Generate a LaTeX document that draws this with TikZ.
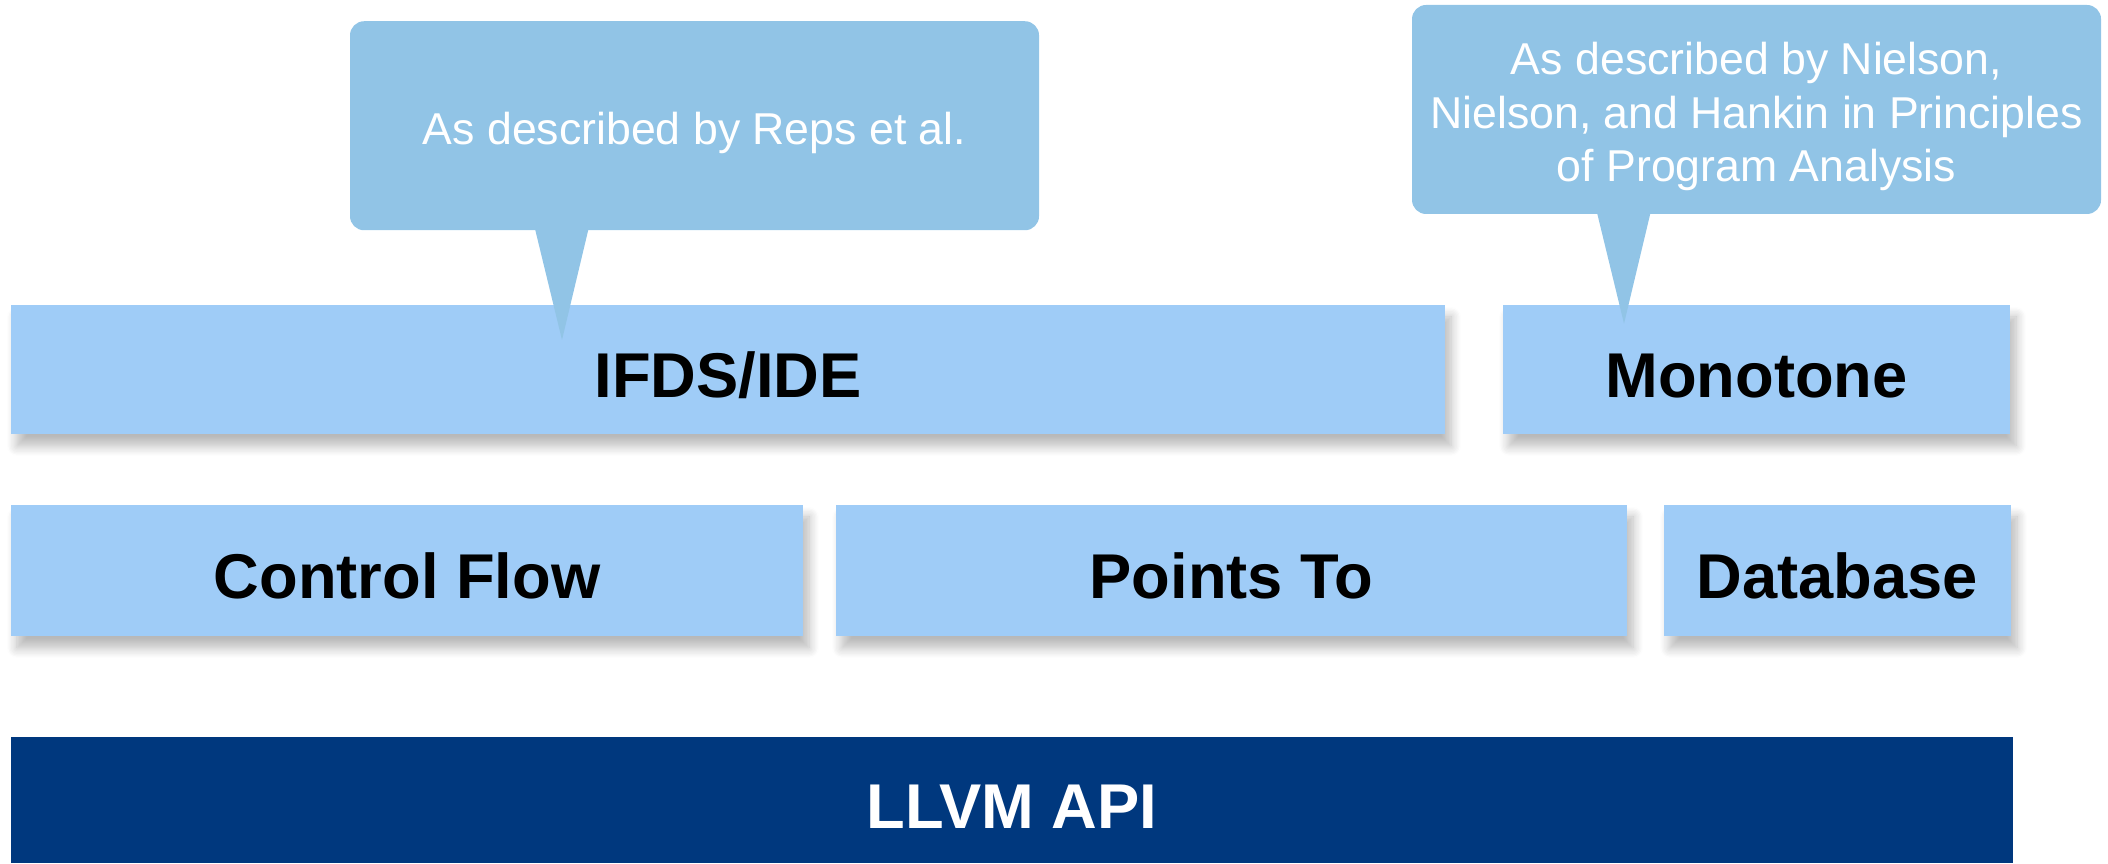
\documentclass[tikz,border=0pt]{standalone}
\usepackage{fontspec}
\setmainfont{Liberation Sans}
\usetikzlibrary{calc,shadows.blur}

\begin{document}
\begin{tikzpicture}[
  layer/.style={fill=LBlue, inner sep=0pt, minimum height=1.29cm, align=center,
    text height=0.56cm, text depth=0pt,
    font=\fontsize{18}{21}\selectfont\bfseries,
    blur shadow={shadow xshift=0.06cm, shadow yshift=-0.12cm, shadow blur steps=8,
      shadow blur radius=0.1cm, shadow opacity=28}},
  base/.style={fill=DBlue, text=white, inner sep=0pt, minimum height=1.26cm,
    text height=0.56cm, text depth=0pt,
    font=\fontsize{18}{21}\selectfont\bfseries},
  note/.style={fill=CBlue, rounded corners=4pt, inner sep=0pt,
    minimum width=6.89cm, minimum height=2.09cm},
  notetext/.style={text=white, inner sep=0pt, align=center,
    font=\fontsize{12.7}{15.3}\selectfont},
  tail/.style={fill=CBlue}
]
\definecolor{LBlue}{HTML}{9FCCF7}
\definecolor{CBlue}{HTML}{91C4E6}
\definecolor{DBlue}{HTML}{00387E}

\useasboundingbox (0,0) rectangle (21.08,8.63);

% analysis layers
\node[layer, minimum width=14.34cm] (ifds) at (7.28,4.935) {IFDS/IDE};
\node[layer, minimum width=5.07cm] (mono) at (17.565,4.935) {Monotone};

\node[layer, minimum width=7.92cm, minimum height=1.31cm] (cfg) at (4.07,2.925) {Control Flow};
\node[layer, minimum width=7.91cm, minimum height=1.31cm] (pts) at (12.315,2.925) {Points To};
\node[layer, minimum width=3.47cm, minimum height=1.31cm] (db) at (18.375,2.925) {Database};

\node[base, minimum width=20.02cm] (llvm) at (10.12,0.63) {LLVM API};

% callouts
\node[note] (reps) at (6.945,7.3725) {};
\node[note] (nnh) at (17.565,7.535) {};
\node[notetext] (repstext) at ($(reps.center)+(0,-0.07)$) {As described by Reps et al.};
\node[notetext] (nnhtext) at ($(nnh.center)+(0,-0.07)$) {As described by Nielson,\\Nielson, and Hankin in Principles\\of Program Analysis};

\coordinate (repstip) at ($(reps.south)+(-1.325,-1.09)$);
\coordinate (nnhtip) at ($(nnh.south)+(-1.325,-1.09)$);
\fill[tail] ($(reps.south)+(-1.595,0.02)$) -- (repstip) -- ($(reps.south)+(-1.06,0.02)$) -- cycle;
\fill[tail] ($(nnh.south)+(-1.595,0.02)$) -- (nnhtip) -- ($(nnh.south)+(-1.06,0.02)$) -- cycle;
\end{tikzpicture}
\end{document}
